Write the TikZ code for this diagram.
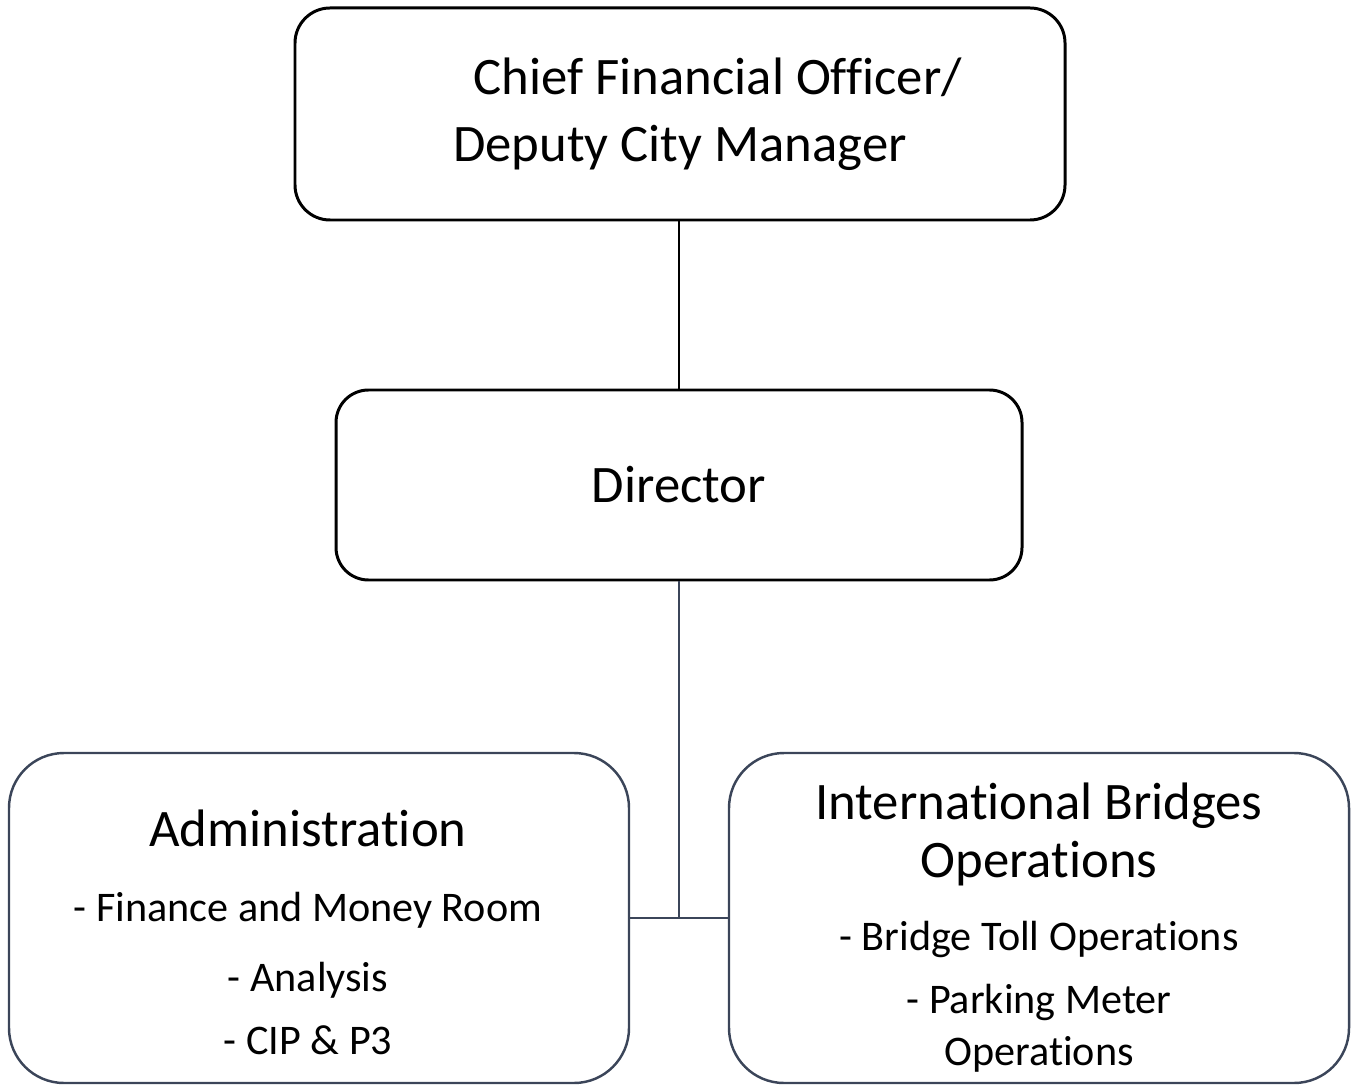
\documentclass[tikz,border=0pt]{standalone}
\usepackage{fontspec}
\setmainfont{Carlito}[Ligatures=NoCommon]
\usepackage{xcolor}
\usepackage{tikz}
\usetikzlibrary{positioning}
\definecolor{slate}{HTML}{3B4559}

\begin{document}
\begin{tikzpicture}[
    thick,
    topbox/.style={rectangle, draw=black, line width=1.7pt, rounded corners=0.7cm, align=center, font=\fontsize{30}{38}\selectfont},
    unitbox/.style={rectangle, draw=slate, line width=1.4pt, rounded corners=1.1cm, minimum width=12.4cm, minimum height=6.6cm},
    unittext/.style={align=center, inner sep=0pt, font=\fontsize{24}{40}\selectfont},
    link/.style={draw=black, line width=1.6pt},
    sublink/.style={draw=slate, line width=1.2pt}
]
\useasboundingbox (0,0) rectangle (27.06,-21.72);
\node[topbox, minimum width=15.4cm, minimum height=4.24cm] (cfo) at (13.6,-2.28) {\hspace*{1.52cm}Chief Financial Officer/\\Deputy City Manager};
\node[topbox, minimum width=13.72cm, minimum height=3.8cm, rounded corners=0.65cm] (dir) at (13.58,-9.7) {Director};
\node[unitbox] (adm) at (6.38,-18.36) {};
\node[unitbox] (ibo) at (20.78,-18.36) {};
\node[unittext, xshift=-0.22cm, yshift=-0.29cm] (admtext) at (adm) {{\fontsize{30}{35}\selectfont Administration}\\[0.08cm]- Finance and Money Room\\[0cm]- Analysis\\[-0.14cm]- CIP \& P3};
\node[unittext, yshift=-0.2cm] (ibotext) at (ibo) {{\fontsize{30}{35}\selectfont International Bridges}\\[-0.26cm]{\fontsize{30}{35}\selectfont Operations}\\[0.06cm]- Bridge Toll Operations\\[-0.14cm]- Parking Meter\\[-0.36cm]Operations};
\draw[link] (dir.north |- cfo.south) -- (dir.north);
\draw[sublink] (dir.south) -- (dir.south |- adm.east);
\draw[sublink] (adm.east) -- (ibo.west);
\end{tikzpicture}
\end{document}
